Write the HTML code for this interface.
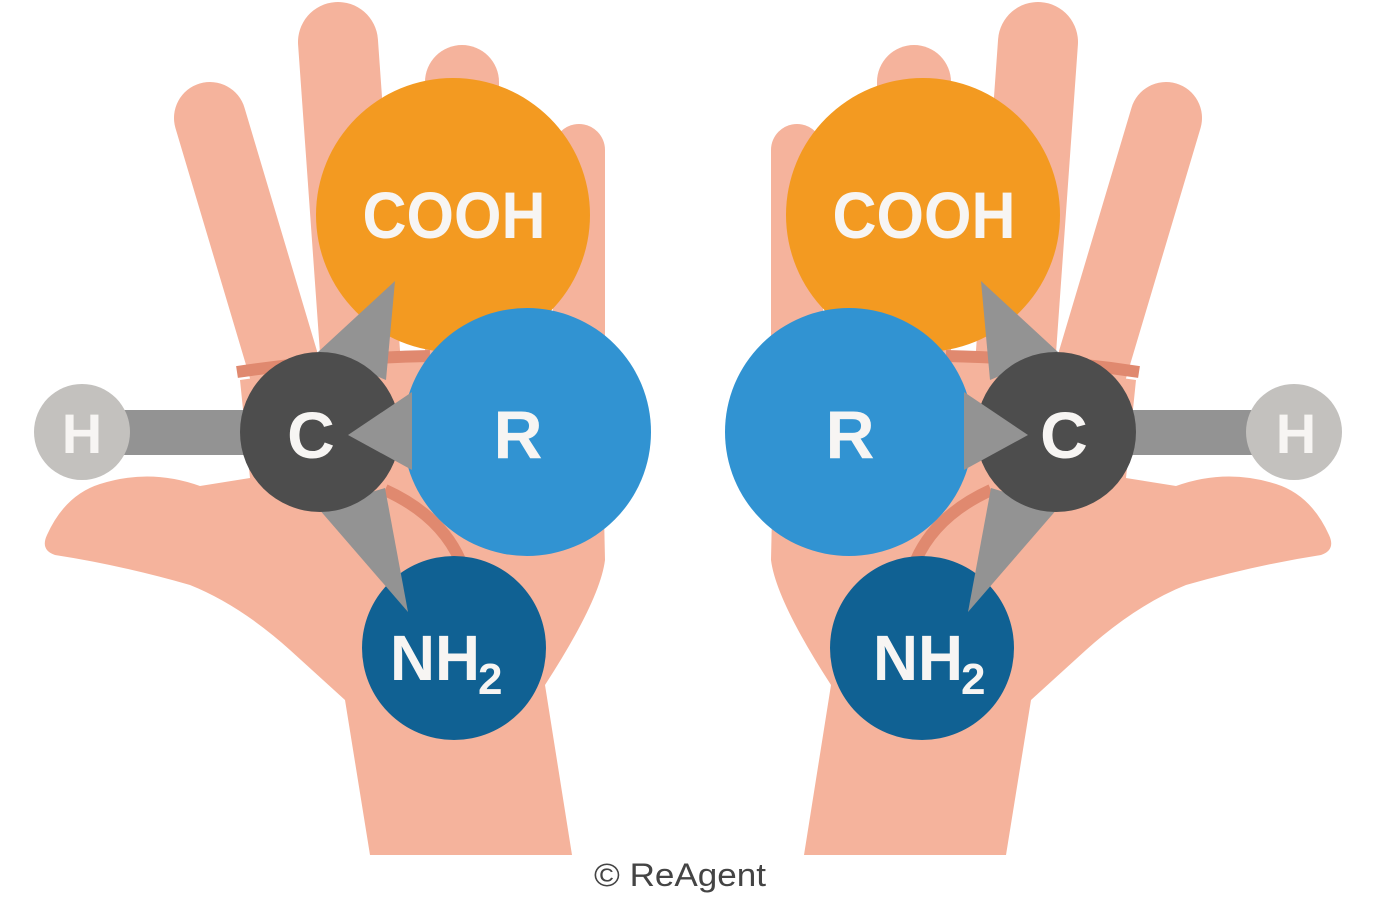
<!DOCTYPE html>
<html><head><style>html,body{margin:0;padding:0;background:#fff;width:1376px;height:899px;overflow:hidden}</style></head>
<body>
<svg width="1376" height="899" viewBox="0 0 1376 899" xmlns="http://www.w3.org/2000/svg">
<defs>
<g id="hand">
  <g stroke="#f5b39c" stroke-linecap="round" fill="none">
    <line x1="210" y1="118" x2="300" y2="420" stroke-width="72"/>
    <line x1="338" y1="42" x2="362" y2="380" stroke-width="80"/>
    <line x1="462" y1="82" x2="462" y2="380" stroke-width="74"/>
    <line x1="579" y1="150" x2="579" y2="520" stroke-width="52"/>
  </g>
  <path fill="#f5b39c" d="M240,380 L600,330 L605,560 Q600,600 545,685 L572,855 L370,855 L345,700 L290,650 Q240,605 190,585 Q120,565 55,555 Q40,550 47,535 Q65,495 100,484 Q150,468 200,486 L250,478 Z"/>
  <path d="M237,372 Q330,358 430,356" stroke="#e0896f" stroke-width="12" fill="none"/>
  <path d="M385,490 Q440,515 460,560" stroke="#e0896f" stroke-width="12" fill="none"/>
  <rect x="110" y="410" width="140" height="45" fill="#939393"/>
  <circle cx="82" cy="432" r="48" fill="#c3c1be"/>
  <circle cx="453" cy="215" r="137" fill="#f39a21"/>
  <circle cx="527" cy="432" r="124" fill="#3193d2"/>
  <circle cx="454" cy="648" r="92" fill="#106193"/>
  <polygon fill="#939393" points="395,281 318,352 386,380"/>
  <polygon fill="#939393" points="408,612 318,508 385,488"/>
  <circle cx="320" cy="432" r="80" fill="#4d4d4d"/>
  <polygon fill="#939393" points="348,435 412,392 412,470"/>
</g>
</defs>
<use href="#hand"/>
<use href="#hand" transform="translate(1376,0) scale(-1,1)"/>
<g font-family="Liberation Sans, sans-serif" fill="#f7f5f3" font-weight="bold">
  <text x="454" y="238" font-size="66" text-anchor="middle" textLength="183" lengthAdjust="spacingAndGlyphs">COOH</text>
  <text x="924" y="238" font-size="66" text-anchor="middle" textLength="183" lengthAdjust="spacingAndGlyphs">COOH</text>
  <text x="518" y="458" font-size="68" text-anchor="middle">R</text>
  <text x="850" y="458" font-size="68" text-anchor="middle">R</text>
  <text x="311" y="458" font-size="66" text-anchor="middle">C</text>
  <text x="1064" y="458" font-size="66" text-anchor="middle">C</text>
  <text x="82" y="453" font-size="56" text-anchor="middle">H</text>
  <text x="1296" y="453" font-size="56" text-anchor="middle">H</text>
  <text x="390" y="680" font-size="64" textLength="90" lengthAdjust="spacingAndGlyphs">NH</text><text x="478" y="694" font-size="44">2</text>
  <text x="873" y="680" font-size="64" textLength="90" lengthAdjust="spacingAndGlyphs">NH</text><text x="961" y="694" font-size="44">2</text>
</g>
<text x="594" y="886" font-family="Liberation Sans, sans-serif" font-size="32" fill="#444" textLength="172" lengthAdjust="spacingAndGlyphs">© ReAgent</text>
</svg>
</body></html>
